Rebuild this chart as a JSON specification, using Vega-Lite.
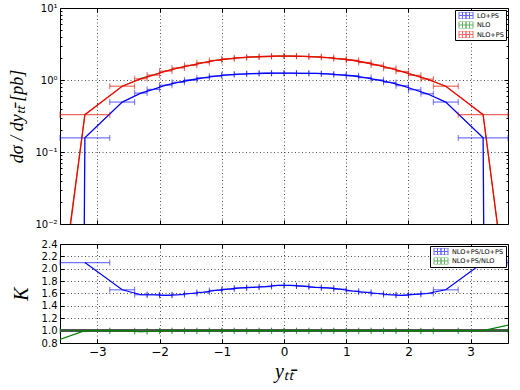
{
  "$schema": "https://vega.github.io/schema/vega-lite/v6.json",
  "background": "white",
  "padding": {"left": 8, "top": 2, "right": 5, "bottom": 2},
  "config": {
    "view": {"stroke": "black", "strokeWidth": 1},
    "font": "DejaVu Sans",
    "axis": {"domain": false, "tickColor": "black", "labelColor": "black", "titleColor": "black", "titleFontWeight": "normal", "labelOverlap": false, "labelFlush": false}
  },
  "datasets": {
    "top": [
      {"s":"LO+PS","x":-4,"y":1e-100},
      {"s":"LO+PS","x":-3.2,"lo":-3.6,"hi":-2.8,"y":0.157},
      {"s":"LO+PS","x":-2.6,"lo":-2.8,"hi":-2.4,"y":0.494},
      {"s":"LO+PS","x":-2.3,"lo":-2.4,"hi":-2.2,"y":0.658},
      {"s":"LO+PS","x":-2.1,"lo":-2.2,"hi":-2.0,"y":0.741},
      {"s":"LO+PS","x":-1.9,"lo":-2.0,"hi":-1.8,"y":0.847},
      {"s":"LO+PS","x":-1.7,"lo":-1.8,"hi":-1.6,"y":0.930},
      {"s":"LO+PS","x":-1.5,"lo":-1.6,"hi":-1.4,"y":1.000},
      {"s":"LO+PS","x":-1.3,"lo":-1.4,"hi":-1.2,"y":1.074},
      {"s":"LO+PS","x":-1.1,"lo":-1.2,"hi":-1.0,"y":1.133},
      {"s":"LO+PS","x":-0.9,"lo":-1.0,"hi":-0.8,"y":1.180},
      {"s":"LO+PS","x":-0.7,"lo":-0.8,"hi":-0.6,"y":1.207},
      {"s":"LO+PS","x":-0.5,"lo":-0.6,"hi":-0.4,"y":1.229},
      {"s":"LO+PS","x":-0.3,"lo":-0.4,"hi":-0.2,"y":1.240},
      {"s":"LO+PS","x":-0.1,"lo":-0.2,"hi":0,"y":1.243},
      {"s":"LO+PS","x":0.1,"lo":0,"hi":0.2,"y":1.243},
      {"s":"LO+PS","x":0.3,"lo":0.2,"hi":0.4,"y":1.238},
      {"s":"LO+PS","x":0.5,"lo":0.4,"hi":0.6,"y":1.235},
      {"s":"LO+PS","x":0.7,"lo":0.6,"hi":0.8,"y":1.213},
      {"s":"LO+PS","x":0.9,"lo":0.8,"hi":1.0,"y":1.180},
      {"s":"LO+PS","x":1.1,"lo":1.0,"hi":1.2,"y":1.146},
      {"s":"LO+PS","x":1.3,"lo":1.2,"hi":1.4,"y":1.080},
      {"s":"LO+PS","x":1.5,"lo":1.4,"hi":1.6,"y":1.006},
      {"s":"LO+PS","x":1.7,"lo":1.6,"hi":1.8,"y":0.924},
      {"s":"LO+PS","x":1.9,"lo":1.8,"hi":2.0,"y":0.834},
      {"s":"LO+PS","x":2.1,"lo":2.0,"hi":2.2,"y":0.732},
      {"s":"LO+PS","x":2.3,"lo":2.2,"hi":2.4,"y":0.644},
      {"s":"LO+PS","x":2.6,"lo":2.4,"hi":2.8,"y":0.494},
      {"s":"LO+PS","x":3.2,"lo":2.8,"hi":3.6,"y":0.157},
      {"s":"LO+PS","x":4,"y":1e-100},
      {"s":"NLO","x":-4,"y":2.4e-6},
      {"s":"NLO","x":-3.2,"lo":-3.6,"hi":-2.8,"y":0.33},
      {"s":"NLO","x":-2.6,"lo":-2.8,"hi":-2.4,"y":0.82},
      {"s":"NLO","x":-2.3,"lo":-2.4,"hi":-2.2,"y":1.056},
      {"s":"NLO","x":-2.1,"lo":-2.2,"hi":-2.0,"y":1.182},
      {"s":"NLO","x":-1.9,"lo":-2.0,"hi":-1.8,"y":1.33},
      {"s":"NLO","x":-1.7,"lo":-1.8,"hi":-1.6,"y":1.47},
      {"s":"NLO","x":-1.5,"lo":-1.6,"hi":-1.4,"y":1.60},
      {"s":"NLO","x":-1.3,"lo":-1.4,"hi":-1.2,"y":1.74},
      {"s":"NLO","x":-1.1,"lo":-1.2,"hi":-1.0,"y":1.87},
      {"s":"NLO","x":-0.9,"lo":-1.0,"hi":-0.8,"y":1.97},
      {"s":"NLO","x":-0.7,"lo":-0.8,"hi":-0.6,"y":2.04},
      {"s":"NLO","x":-0.5,"lo":-0.6,"hi":-0.4,"y":2.09},
      {"s":"NLO","x":-0.3,"lo":-0.4,"hi":-0.2,"y":2.12},
      {"s":"NLO","x":-0.1,"lo":-0.2,"hi":0,"y":2.15},
      {"s":"NLO","x":0.1,"lo":0,"hi":0.2,"y":2.15},
      {"s":"NLO","x":0.3,"lo":0.2,"hi":0.4,"y":2.13},
      {"s":"NLO","x":0.5,"lo":0.4,"hi":0.6,"y":2.10},
      {"s":"NLO","x":0.7,"lo":0.6,"hi":0.8,"y":2.05},
      {"s":"NLO","x":0.9,"lo":0.8,"hi":1.0,"y":1.97},
      {"s":"NLO","x":1.1,"lo":1.0,"hi":1.2,"y":1.88},
      {"s":"NLO","x":1.3,"lo":1.2,"hi":1.4,"y":1.75},
      {"s":"NLO","x":1.5,"lo":1.4,"hi":1.6,"y":1.61},
      {"s":"NLO","x":1.7,"lo":1.6,"hi":1.8,"y":1.46},
      {"s":"NLO","x":1.9,"lo":1.8,"hi":2.0,"y":1.31},
      {"s":"NLO","x":2.1,"lo":2.0,"hi":2.2,"y":1.166},
      {"s":"NLO","x":2.3,"lo":2.2,"hi":2.4,"y":1.03},
      {"s":"NLO","x":2.6,"lo":2.4,"hi":2.8,"y":0.82},
      {"s":"NLO","x":3.2,"lo":2.8,"hi":3.6,"y":0.33},
      {"s":"NLO","x":4,"y":1.44e-6},
      {"s":"NLO+PS","x":-4,"y":1.7e-6},
      {"s":"NLO+PS","x":-3.2,"lo":-3.6,"hi":-2.8,"y":0.33},
      {"s":"NLO+PS","x":-2.6,"lo":-2.8,"hi":-2.4,"y":0.82},
      {"s":"NLO+PS","x":-2.3,"lo":-2.4,"hi":-2.2,"y":1.04},
      {"s":"NLO+PS","x":-2.1,"lo":-2.2,"hi":-2.0,"y":1.17},
      {"s":"NLO+PS","x":-1.9,"lo":-2.0,"hi":-1.8,"y":1.33},
      {"s":"NLO+PS","x":-1.7,"lo":-1.8,"hi":-1.6,"y":1.47},
      {"s":"NLO+PS","x":-1.5,"lo":-1.6,"hi":-1.4,"y":1.60},
      {"s":"NLO+PS","x":-1.3,"lo":-1.4,"hi":-1.2,"y":1.74},
      {"s":"NLO+PS","x":-1.1,"lo":-1.2,"hi":-1.0,"y":1.87},
      {"s":"NLO+PS","x":-0.9,"lo":-1.0,"hi":-0.8,"y":1.97},
      {"s":"NLO+PS","x":-0.7,"lo":-0.8,"hi":-0.6,"y":2.04},
      {"s":"NLO+PS","x":-0.5,"lo":-0.6,"hi":-0.4,"y":2.09},
      {"s":"NLO+PS","x":-0.3,"lo":-0.4,"hi":-0.2,"y":2.12},
      {"s":"NLO+PS","x":-0.1,"lo":-0.2,"hi":0,"y":2.15},
      {"s":"NLO+PS","x":0.1,"lo":0,"hi":0.2,"y":2.15},
      {"s":"NLO+PS","x":0.3,"lo":0.2,"hi":0.4,"y":2.13},
      {"s":"NLO+PS","x":0.5,"lo":0.4,"hi":0.6,"y":2.10},
      {"s":"NLO+PS","x":0.7,"lo":0.6,"hi":0.8,"y":2.05},
      {"s":"NLO+PS","x":0.9,"lo":0.8,"hi":1.0,"y":1.97},
      {"s":"NLO+PS","x":1.1,"lo":1.0,"hi":1.2,"y":1.88},
      {"s":"NLO+PS","x":1.3,"lo":1.2,"hi":1.4,"y":1.75},
      {"s":"NLO+PS","x":1.5,"lo":1.4,"hi":1.6,"y":1.61},
      {"s":"NLO+PS","x":1.7,"lo":1.6,"hi":1.8,"y":1.46},
      {"s":"NLO+PS","x":1.9,"lo":1.8,"hi":2.0,"y":1.31},
      {"s":"NLO+PS","x":2.1,"lo":2.0,"hi":2.2,"y":1.16},
      {"s":"NLO+PS","x":2.3,"lo":2.2,"hi":2.4,"y":1.03},
      {"s":"NLO+PS","x":2.6,"lo":2.4,"hi":2.8,"y":0.82},
      {"s":"NLO+PS","x":3.2,"lo":2.8,"hi":3.6,"y":0.33},
      {"s":"NLO+PS","x":4,"y":1.7e-6}
    ],
    "bot": [
      {"s":"NLO+PS/LO+PS","x":-3.2,"lo":-3.6,"hi":-2.8,"y":2.10},
      {"s":"NLO+PS/LO+PS","x":-2.6,"lo":-2.8,"hi":-2.4,"y":1.66},
      {"s":"NLO+PS/LO+PS","x":-2.3,"lo":-2.4,"hi":-2.2,"y":1.58},
      {"s":"NLO+PS/LO+PS","x":-2.1,"lo":-2.2,"hi":-2.0,"y":1.58},
      {"s":"NLO+PS/LO+PS","x":-1.9,"lo":-2.0,"hi":-1.8,"y":1.57},
      {"s":"NLO+PS/LO+PS","x":-1.7,"lo":-1.8,"hi":-1.6,"y":1.58},
      {"s":"NLO+PS/LO+PS","x":-1.5,"lo":-1.6,"hi":-1.4,"y":1.60},
      {"s":"NLO+PS/LO+PS","x":-1.3,"lo":-1.4,"hi":-1.2,"y":1.62},
      {"s":"NLO+PS/LO+PS","x":-1.1,"lo":-1.2,"hi":-1.0,"y":1.65},
      {"s":"NLO+PS/LO+PS","x":-0.9,"lo":-1.0,"hi":-0.8,"y":1.67},
      {"s":"NLO+PS/LO+PS","x":-0.7,"lo":-0.8,"hi":-0.6,"y":1.69},
      {"s":"NLO+PS/LO+PS","x":-0.5,"lo":-0.6,"hi":-0.4,"y":1.70},
      {"s":"NLO+PS/LO+PS","x":-0.3,"lo":-0.4,"hi":-0.2,"y":1.71},
      {"s":"NLO+PS/LO+PS","x":-0.1,"lo":-0.2,"hi":0,"y":1.73},
      {"s":"NLO+PS/LO+PS","x":0.1,"lo":0,"hi":0.2,"y":1.73},
      {"s":"NLO+PS/LO+PS","x":0.3,"lo":0.2,"hi":0.4,"y":1.72},
      {"s":"NLO+PS/LO+PS","x":0.5,"lo":0.4,"hi":0.6,"y":1.70},
      {"s":"NLO+PS/LO+PS","x":0.7,"lo":0.6,"hi":0.8,"y":1.69},
      {"s":"NLO+PS/LO+PS","x":0.9,"lo":0.8,"hi":1.0,"y":1.67},
      {"s":"NLO+PS/LO+PS","x":1.1,"lo":1.0,"hi":1.2,"y":1.64},
      {"s":"NLO+PS/LO+PS","x":1.3,"lo":1.2,"hi":1.4,"y":1.62},
      {"s":"NLO+PS/LO+PS","x":1.5,"lo":1.4,"hi":1.6,"y":1.60},
      {"s":"NLO+PS/LO+PS","x":1.7,"lo":1.6,"hi":1.8,"y":1.58},
      {"s":"NLO+PS/LO+PS","x":1.9,"lo":1.8,"hi":2.0,"y":1.57},
      {"s":"NLO+PS/LO+PS","x":2.1,"lo":2.0,"hi":2.2,"y":1.585},
      {"s":"NLO+PS/LO+PS","x":2.3,"lo":2.2,"hi":2.4,"y":1.60},
      {"s":"NLO+PS/LO+PS","x":2.6,"lo":2.4,"hi":2.8,"y":1.66},
      {"s":"NLO+PS/LO+PS","x":3.2,"lo":2.8,"hi":3.6,"y":2.10},
      {"s":"NLO+PS/NLO","x":-4,"y":0.72},
      {"s":"NLO+PS/NLO","x":-3.2,"lo":-3.6,"hi":-2.8,"y":1.0},
      {"s":"NLO+PS/NLO","x":-2.6,"lo":-2.8,"hi":-2.4,"y":1.0},
      {"s":"NLO+PS/NLO","x":-2.3,"lo":-2.4,"hi":-2.2,"y":0.985},
      {"s":"NLO+PS/NLO","x":-2.1,"lo":-2.2,"hi":-2.0,"y":0.99},
      {"s":"NLO+PS/NLO","x":-1.9,"lo":-2.0,"hi":-1.8,"y":1.0},
      {"s":"NLO+PS/NLO","x":-1.7,"lo":-1.8,"hi":-1.6,"y":1.0},
      {"s":"NLO+PS/NLO","x":-1.5,"lo":-1.6,"hi":-1.4,"y":1.0},
      {"s":"NLO+PS/NLO","x":-1.3,"lo":-1.4,"hi":-1.2,"y":1.0},
      {"s":"NLO+PS/NLO","x":-1.1,"lo":-1.2,"hi":-1.0,"y":1.0},
      {"s":"NLO+PS/NLO","x":-0.9,"lo":-1.0,"hi":-0.8,"y":1.0},
      {"s":"NLO+PS/NLO","x":-0.7,"lo":-0.8,"hi":-0.6,"y":1.0},
      {"s":"NLO+PS/NLO","x":-0.5,"lo":-0.6,"hi":-0.4,"y":1.0},
      {"s":"NLO+PS/NLO","x":-0.3,"lo":-0.4,"hi":-0.2,"y":1.0},
      {"s":"NLO+PS/NLO","x":-0.1,"lo":-0.2,"hi":0,"y":1.0},
      {"s":"NLO+PS/NLO","x":0.1,"lo":0,"hi":0.2,"y":1.0},
      {"s":"NLO+PS/NLO","x":0.3,"lo":0.2,"hi":0.4,"y":1.0},
      {"s":"NLO+PS/NLO","x":0.5,"lo":0.4,"hi":0.6,"y":1.0},
      {"s":"NLO+PS/NLO","x":0.7,"lo":0.6,"hi":0.8,"y":1.0},
      {"s":"NLO+PS/NLO","x":0.9,"lo":0.8,"hi":1.0,"y":1.0},
      {"s":"NLO+PS/NLO","x":1.1,"lo":1.0,"hi":1.2,"y":1.0},
      {"s":"NLO+PS/NLO","x":1.3,"lo":1.2,"hi":1.4,"y":1.0},
      {"s":"NLO+PS/NLO","x":1.5,"lo":1.4,"hi":1.6,"y":1.0},
      {"s":"NLO+PS/NLO","x":1.7,"lo":1.6,"hi":1.8,"y":1.0},
      {"s":"NLO+PS/NLO","x":1.9,"lo":1.8,"hi":2.0,"y":1.0},
      {"s":"NLO+PS/NLO","x":2.1,"lo":2.0,"hi":2.2,"y":0.995},
      {"s":"NLO+PS/NLO","x":2.3,"lo":2.2,"hi":2.4,"y":1.0},
      {"s":"NLO+PS/NLO","x":2.6,"lo":2.4,"hi":2.8,"y":1.0},
      {"s":"NLO+PS/NLO","x":3.2,"lo":2.8,"hi":3.6,"y":1.0},
      {"s":"NLO+PS/NLO","x":4,"y":1.18}
    ]
  },
  "spacing": 8,
  "resolve": {"scale": {"color": "independent"}, "legend": {"color": "independent"}},
  "vconcat": [
    {
      "width": 448,
      "height": 216,
      "data": {"name": "top"},
      "resolve": {"axis": {"x": "independent", "y": "independent"}},
      "layer": [
        {
          "mark": {"type": "line", "clip": true},
          "encoding": {
            "x": {"field": "x", "type": "quantitative", "scale": {"domain": [-3.6, 3.6], "nice": false, "zero": false},
                  "axis": {"values": [-3, -2, -1, 0, 1, 2, 3], "labels": false, "tickSize": -4, "grid": true, "gridDash": [1, 2.5], "gridColor": "black", "gridWidth": 0.7, "title": null}},
            "y": {"field": "y", "type": "quantitative", "scale": {"type": "log", "domain": [0.01, 10]},
                  "axis": {"values": [0.01,0.02,0.03,0.04,0.05,0.06,0.07,0.08,0.09,0.1,0.2,0.3,0.4,0.5,0.6,0.7,0.8,0.9,1,2,3,4,5,6,7,8,9,10],
                           "labelExpr": "datum.value==0.01?'10⁻²':datum.value==0.1?'10⁻¹':datum.value==1?'10⁰':datum.value==10?'10¹':''",
                           "tickSize": {"condition": {"test": "datum.value==0.01||datum.value==0.1||datum.value==1||datum.value==10", "value": -4}, "value": -2},
                           "grid": true,
                           "gridOpacity": {"condition": {"test": "datum.value==0.1||datum.value==1", "value": 1}, "value": 0},
                           "gridDash": [1, 2.5], "gridColor": "black", "gridWidth": 0.7,
                           "labelFontSize": 10, "labelPadding": 7,
                           "title": "dσ / dyₜₜ̄ [pb]", "titleFont": "Liberation Serif", "titleFontSize": 18, "titleFontStyle": "italic", "titlePadding": 8}},
            "color": {"field": "s", "type": "nominal", "scale": {"domain": ["LO+PS", "NLO", "NLO+PS"], "range": ["#0000ff", "#008000", "#ff0000"]},
                      "legend": {"orient": "top-right", "offset": 2, "padding": 2, "strokeColor": "black", "fillColor": "white", "labelFontSize": 6.5, "labelColor": "black", "rowPadding": 2.5, "clipHeight": 7, "symbolSize": 49, "symbolOffset": 5, "labelOffset": 7, "title": null, "cornerRadius": 0, "symbolStrokeWidth": 1, "symbolOpacity": 0.6, "symbolFillColor": "transparent", "symbolType": "M-2,-1H0V1H-2ZM-1,-1V1M-2,0H0M0,-1H2V1H0ZM1,-1V1M0,0H2"}},
            "strokeWidth": {"condition": {"test": "datum.s==='NLO'", "value": 0.8}, "value": 1.3}
          }
        },
        {
          "transform": [{"filter": "isValid(datum.lo)"}],
          "mark": {"type": "rule", "strokeWidth": 1.2},
          "encoding": {
            "x": {"field": "lo", "type": "quantitative", "axis": null},
            "x2": {"field": "hi"},
            "y": {"field": "y", "type": "quantitative", "axis": null},
            "color": {"condition": [{"test": "datum.s==='LO+PS'", "value": "#0000ff"}, {"test": "datum.s==='NLO'", "value": "#008000"}], "value": "#ff0000"},
            "opacity": {"condition": {"test": "datum.s==='NLO'", "value": 0.15}, "value": 0.55}
          }
        },
        {
          "transform": [{"filter": "isValid(datum.lo)"}],
          "mark": {"type": "tick", "orient": "vertical", "size": 6, "thickness": 1},
          "encoding": {
            "x": {"field": "lo", "type": "quantitative", "axis": null},
            "y": {"field": "y", "type": "quantitative",
                  "axis": {"orient": "right", "values": [0.01,0.02,0.03,0.04,0.05,0.06,0.07,0.08,0.09,0.1,0.2,0.3,0.4,0.5,0.6,0.7,0.8,0.9,1,2,3,4,5,6,7,8,9,10], "labels": false, "grid": false, "title": null,
                           "tickSize": {"condition": {"test": "datum.value==0.01||datum.value==0.1||datum.value==1||datum.value==10", "value": -4}, "value": -2}}},
            "color": {"condition": [{"test": "datum.s==='LO+PS'", "value": "#0000ff"}, {"test": "datum.s==='NLO'", "value": "#008000"}], "value": "#ff0000"},
            "opacity": {"condition": {"test": "datum.s==='NLO'", "value": 0.15}, "value": 0.55}
          }
        },
        {
          "transform": [{"filter": "isValid(datum.lo)"}],
          "mark": {"type": "tick", "orient": "vertical", "size": 6, "thickness": 1},
          "encoding": {
            "x": {"field": "hi", "type": "quantitative", "axis": {"orient": "top", "values": [-3, -2, -1, 0, 1, 2, 3], "labels": false, "tickSize": -4, "grid": false, "title": null}},
            "y": {"field": "y", "type": "quantitative", "axis": null},
            "color": {"condition": [{"test": "datum.s==='LO+PS'", "value": "#0000ff"}, {"test": "datum.s==='NLO'", "value": "#008000"}], "value": "#ff0000"},
            "opacity": {"condition": {"test": "datum.s==='NLO'", "value": 0.15}, "value": 0.55}
          }
        }
      ]
    },
    {
      "width": 448,
      "height": 99,
      "data": {"name": "bot"},
      "resolve": {"axis": {"x": "independent", "y": "independent"}},
      "layer": [
        {
          "mark": {"type": "rule", "color": "#555555", "strokeWidth": 1.6},
          "encoding": {"y": {"datum": 1, "type": "quantitative", "scale": {"domain": [0.8, 2.4], "nice": false, "zero": false}, "axis": null}}
        },
        {
          "mark": {"type": "line", "clip": true, "strokeWidth": 1.2},
          "encoding": {
            "x": {"field": "x", "type": "quantitative", "scale": {"domain": [-3.6, 3.6], "nice": false, "zero": false},
                  "axis": {"values": [-3, -2, -1, 0, 1, 2, 3], "format": "d", "tickSize": -4, "labelPadding": 7, "labelFontSize": 12, "grid": true, "gridDash": [1, 2.5], "gridColor": "black", "gridWidth": 0.7,
                           "title": "yₜₜ̄", "titleFont": "Liberation Serif", "titleFontSize": 20, "titleFontStyle": "italic", "titlePadding": 4}},
            "y": {"field": "y", "type": "quantitative", "scale": {"domain": [0.8, 2.4], "nice": false, "zero": false},
                  "axis": {"values": [0.8, 1.0, 1.2, 1.4, 1.6, 1.8, 2.0, 2.2, 2.4], "format": ".1f", "tickSize": -4, "labelPadding": 7, "labelFontSize": 10, "grid": true, "gridDash": [1, 2.5], "gridColor": "black", "gridWidth": 0.7,
                           "title": "K", "titleFont": "Liberation Serif", "titleFontSize": 20, "titleFontStyle": "italic", "titlePadding": 10}},
            "color": {"field": "s", "type": "nominal", "scale": {"domain": ["NLO+PS/LO+PS", "NLO+PS/NLO"], "range": ["#0000ff", "#008000"]},
                      "legend": {"orient": "top-right", "offset": 2, "padding": 2, "strokeColor": "black", "fillColor": "white", "labelFontSize": 6.5, "labelColor": "black", "rowPadding": 2.5, "clipHeight": 7, "symbolSize": 49, "symbolOffset": 5, "labelOffset": 7, "title": null, "cornerRadius": 0, "symbolStrokeWidth": 1, "symbolOpacity": 0.6, "symbolFillColor": "transparent", "symbolType": "M-2,-1H0V1H-2ZM-1,-1V1M-2,0H0M0,-1H2V1H0ZM1,-1V1M0,0H2"}}
          }
        },
        {
          "transform": [{"filter": "isValid(datum.lo)"}],
          "mark": {"type": "rule", "opacity": 0.55, "strokeWidth": 1.2},
          "encoding": {
            "x": {"field": "lo", "type": "quantitative", "axis": null},
            "x2": {"field": "hi"},
            "y": {"field": "y", "type": "quantitative", "axis": null},
            "color": {"condition": {"test": "datum.s==='NLO+PS/LO+PS'", "value": "#0000ff"}, "value": "#008000"}
          }
        },
        {
          "transform": [{"filter": "isValid(datum.lo)"}],
          "mark": {"type": "tick", "orient": "vertical", "size": 6, "thickness": 1, "opacity": 0.55},
          "encoding": {
            "x": {"field": "lo", "type": "quantitative", "axis": null},
            "y": {"field": "y", "type": "quantitative", "axis": {"orient": "right", "values": [0.8, 1.0, 1.2, 1.4, 1.6, 1.8, 2.0, 2.2, 2.4], "labels": false, "tickSize": -4, "grid": false, "title": null}},
            "color": {"condition": {"test": "datum.s==='NLO+PS/LO+PS'", "value": "#0000ff"}, "value": "#008000"}
          }
        },
        {
          "transform": [{"filter": "isValid(datum.lo)"}],
          "mark": {"type": "tick", "orient": "vertical", "size": 6, "thickness": 1, "opacity": 0.55},
          "encoding": {
            "x": {"field": "hi", "type": "quantitative", "axis": {"orient": "top", "values": [-3, -2, -1, 0, 1, 2, 3], "labels": false, "tickSize": -4, "grid": false, "title": null}},
            "y": {"field": "y", "type": "quantitative", "axis": null},
            "color": {"condition": {"test": "datum.s==='NLO+PS/LO+PS'", "value": "#0000ff"}, "value": "#008000"}
          }
        }
      ]
    }
  ]
}
